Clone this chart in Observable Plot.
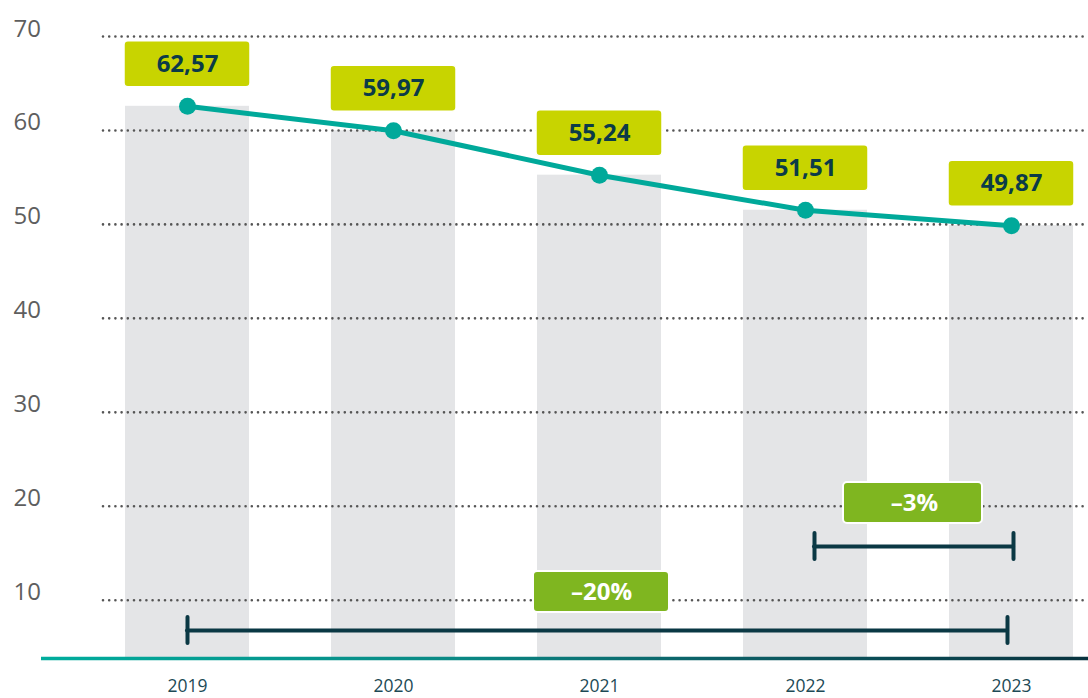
<!DOCTYPE html>
<html>
<head>
<meta charset="utf-8">
<script src="https://cdn.jsdelivr.net/npm/d3@7"></script>
<script src="https://cdn.jsdelivr.net/npm/@observablehq/plot@0.6"></script>
<style>
  html, body { margin: 0; padding: 0; background: #ffffff; }
  #chart svg { display: block; }
</style>
</head>
<body>
<div id="chart"></div>
<script>
// ---- data ----
const years  = ["2019", "2020", "2021", "2022", "2023"];
const values = [62.57, 59.97, 55.24, 51.51, 49.87];
const yTicks = [10, 20, 30, 40, 50, 60, 70];

// change annotations (bracket from year -> to year, with label)
const changeLabels = ["–20%", "–3%"];
const changeFrom   = ["2019", "2022"];
const changeTo     = ["2023", "2023"];
const bracketLevel = [6.78, 15.72];   // y value of bracket
const labelAt      = ["2021", "2022"]; // band the label box sits on
const labelLevel   = [10.88, 20.35];  // y value of label box centre

const data = years.map((year, i) => ({year, value: values[i]}));
const ann = changeLabels.map((label, i) => ({
  label, from: changeFrom[i], to: changeTo[i],
  level: bracketLevel[i], at: labelAt[i], labelLevel: labelLevel[i]
}));
const fmt = v => v.toFixed(2).replace(".", ",");

// ---- layout ----
const W = 1088, H = 698, ML = 103, MT = 36, MB = 40;
const Y_MIN = 3.8, Y_MAX = 70;

const teal = "#00a99a";
const dark = "#0a3844";
const lime = "#c8d400";
const green = "#7fb620";

const bracketStyle = {stroke: dark, strokeWidth: 4, strokeLinecap: "round"};

const plot = Plot.plot({
  width: W, height: H,
  marginLeft: ML, marginRight: 0, marginTop: MT, marginBottom: MB,
  style: {fontFamily: "'Open Sans', 'Noto Sans', sans-serif", background: "#ffffff", overflow: "visible"},
  x: {type: "band", domain: years, paddingInner: 0.4, paddingOuter: 0.09, align: 0.59, axis: null},
  y: {domain: [Y_MIN, Y_MAX], axis: null},
  marks: [
    // bars
    Plot.barY(data, {x: "year", y1: Y_MIN, y2: "value", fill: "#e4e5e7"}),
    // dotted gridlines
    Plot.ruleY(yTicks, {stroke: "#555555", strokeWidth: 2.6, strokeDasharray: "0 6.2", strokeLinecap: "round"}),
    // baseline with gradient
    Plot.ruleY([Y_MIN], {stroke: "url(#baseGrad)", strokeWidth: 3.5, insetLeft: -62}),

    // -20% bracket
    Plot.ruleY([ann[0]], {x1: "from", x2: "to", y: "level", insetLeft: 62, insetRight: 66, ...bracketStyle}),
    Plot.ruleX([ann[0]], {x: "from", y1: "level", y2: "level", insetTop: -13, insetBottom: -13, ...bracketStyle}),
    Plot.ruleX([ann[0]], {x: "to", y1: "level", y2: "level", insetTop: -13, insetBottom: -13, dx: -4, ...bracketStyle}),
    // -3% bracket
    Plot.ruleY([ann[1]], {x1: "from", x2: "to", y: "level", insetLeft: 71, insetRight: 60, ...bracketStyle}),
    Plot.ruleX([ann[1]], {x: "from", y1: "level", y2: "level", insetTop: -13, insetBottom: -13, dx: 9, ...bracketStyle}),
    Plot.ruleX([ann[1]], {x: "to", y1: "level", y2: "level", insetTop: -13, insetBottom: -13, dx: 2, ...bracketStyle}),

    // change label boxes
    Plot.barY([ann[0]], {x: "at", y1: "labelLevel", y2: "labelLevel", insetTop: -20.5, insetBottom: -20.5,
      insetLeft: -4, insetRight: -8, rx: 4, fill: green, stroke: "#ffffff", strokeWidth: 2}),
    Plot.text([ann[0]], {x: "at", y: "labelLevel", text: "label", dx: 2, fill: "#ffffff",
      fontSize: 24, fontWeight: 700}),
    Plot.barY([ann[1]], {x: "at", y1: "labelLevel", y2: "labelLevel", insetTop: -20.5, insetBottom: -20.5,
      insetLeft: -3, insetRight: -12, dx: 103, rx: 4, fill: green, stroke: "#ffffff", strokeWidth: 2}),
    Plot.text([ann[1]], {x: "at", y: "labelLevel", text: "label", dx: 109, fill: "#ffffff",
      fontSize: 24, fontWeight: 700}),

    // line + points
    Plot.line(data, {x: "year", y: "value", stroke: teal, strokeWidth: 5}),
    Plot.dot(data, {x: "year", y: "value", r: 8.5, fill: teal, stroke: "none"}),

    // value label boxes + text
    Plot.barY(data, {x: "year", y1: "value", y2: "value", insetTop: -23, insetBottom: -23,
      insetLeft: -1, insetRight: -1, dy: -42, rx: 4, fill: lime, stroke: "#ffffff", strokeWidth: 1.5}),
    Plot.text(data, {x: "year", y: "value", text: d => fmt(d.value), dy: -42,
      fill: "#0b3b48", fontSize: 24, fontWeight: 700}),

    // y tick labels (baseline sits on gridline)
    Plot.text(yTicks, {y: d => d, text: d => String(d), frameAnchor: "left", dx: -90,
      textAnchor: "start", lineAnchor: "bottom", fontSize: 24, fill: "#5e5e5e"}),
    // x labels
    Plot.text(years, {x: d => d, text: d => d, frameAnchor: "bottom", dy: 21, lineAnchor: "top",
      fontSize: 17.5, fill: "#1d4a56"})
  ]
});

// gradient for the baseline
const svgNS = "http://www.w3.org/2000/svg";
const defs = document.createElementNS(svgNS, "defs");
const grad = document.createElementNS(svgNS, "linearGradient");
grad.setAttribute("id", "baseGrad");
grad.setAttribute("gradientUnits", "userSpaceOnUse");
grad.setAttribute("x1", ML - 62);
grad.setAttribute("x2", W);
grad.setAttribute("y1", 0);
grad.setAttribute("y2", 0);
[[0, "#00ad9d"], [0.4, "#0a8884"], [0.65, "#0c5f66"], [1, "#08333f"]].forEach(([o, c]) => {
  const s = document.createElementNS(svgNS, "stop");
  s.setAttribute("offset", o);
  s.setAttribute("stop-color", c);
  grad.appendChild(s);
});
defs.appendChild(grad);
plot.insertBefore(defs, plot.firstChild);

document.getElementById("chart").appendChild(plot);
</script>
</body>
</html>
